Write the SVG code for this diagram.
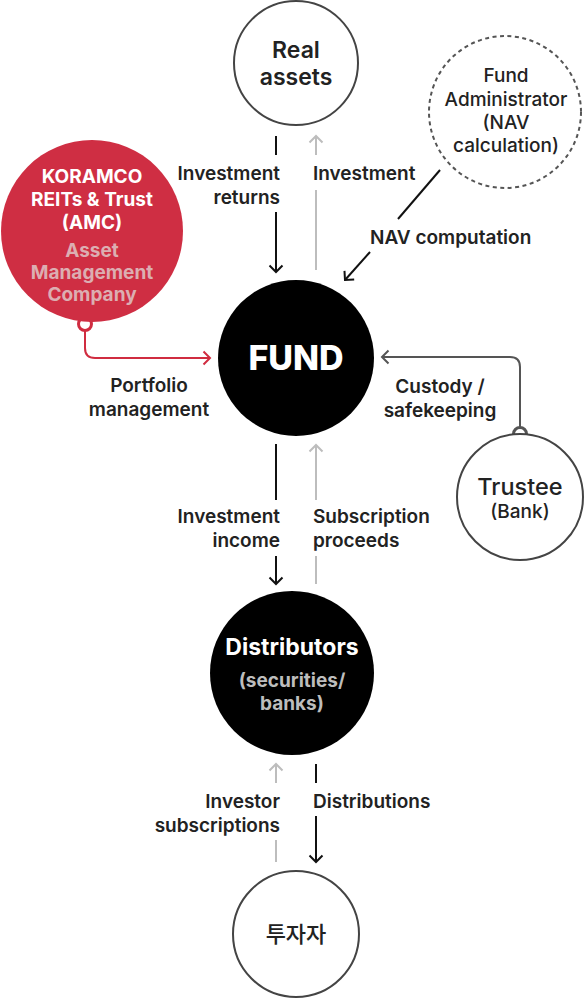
<svg xmlns="http://www.w3.org/2000/svg" width="584" height="998" viewBox="0 0 584 998">
<defs>
<style>
text{font-family:Inter,"Noto Sans","Noto Sans CJK KR",sans-serif;}
.lbl{font-size:19px;font-weight:600;fill:#222;}
.node-o{fill:#fff;stroke:#444;stroke-width:2;}
.blk{stroke:#111;stroke-width:2;fill:none;}
.gry{stroke:#bdbdbd;stroke-width:2;fill:none;}
.red{stroke:#d02c40;stroke-width:2;fill:none;}
.dk{stroke:#555;stroke-width:2;fill:none;}
</style>
<marker id="aB" viewBox="-8 -8 16 16" markerWidth="16" markerHeight="16" markerUnits="userSpaceOnUse" refX="0" refY="0" orient="auto"><path d="M-6.5,-6.5 L0,0 L-6.5,6.5" fill="none" stroke="#111" stroke-width="2"/></marker>
<marker id="aG" viewBox="-8 -8 16 16" markerWidth="16" markerHeight="16" markerUnits="userSpaceOnUse" refX="0" refY="0" orient="auto"><path d="M-6.5,-6.5 L0,0 L-6.5,6.5" fill="none" stroke="#bdbdbd" stroke-width="2"/></marker>
<marker id="aR" viewBox="-8 -8 16 16" markerWidth="16" markerHeight="16" markerUnits="userSpaceOnUse" refX="0" refY="0" orient="auto"><path d="M-6.5,-6.5 L0,0 L-6.5,6.5" fill="none" stroke="#d02c40" stroke-width="2"/></marker>
<marker id="aD" viewBox="-8 -8 16 16" markerWidth="16" markerHeight="16" markerUnits="userSpaceOnUse" refX="0" refY="0" orient="auto"><path d="M-6.5,-6.5 L0,0 L-6.5,6.5" fill="none" stroke="#555" stroke-width="2"/></marker>
</defs>
<rect width="584" height="998" fill="#fff"/>

<g id="connectors">
  <line class="blk" x1="276" y1="136" x2="276" y2="155"/>
  <line class="blk" x1="276" y1="212" x2="276" y2="272" marker-end="url(#aB)"/>
  <line class="gry" x1="316" y1="155" x2="316" y2="136" marker-end="url(#aG)"/>
  <line class="gry" x1="316" y1="270" x2="316" y2="190"/>
  <line class="blk" x1="440" y1="170" x2="398" y2="219"/>
  <line class="blk" x1="370" y1="252" x2="345" y2="280" marker-end="url(#aB)"/>
  <path class="red" d="M85,324 V348 Q85,358 95,358 H210" marker-end="url(#aR)"/>
  <circle cx="85" cy="324" r="6.5" fill="#fff" stroke="#d02c40" stroke-width="3"/>
  <path class="dk" d="M520,434 V367 Q520,357 510,357 H382" marker-end="url(#aD)"/>
  <circle cx="520" cy="434" r="6.5" fill="#fff" stroke="#555" stroke-width="3"/>
  <line class="blk" x1="276" y1="444" x2="276" y2="500"/>
  <line class="blk" x1="276" y1="556" x2="276" y2="584" marker-end="url(#aB)"/>
  <line class="gry" x1="316" y1="500" x2="316" y2="445" marker-end="url(#aG)"/>
  <line class="gry" x1="316" y1="584" x2="316" y2="556"/>
  <line class="gry" x1="276" y1="783" x2="276" y2="764" marker-end="url(#aG)"/>
  <line class="gry" x1="276" y1="862" x2="276" y2="840"/>
  <line class="blk" x1="316" y1="764" x2="316" y2="783"/>
  <line class="blk" x1="316" y1="816" x2="316" y2="862" marker-end="url(#aB)"/>

  <text class="lbl" text-anchor="end" x="280" y="180">Investment</text>
  <text class="lbl" text-anchor="end" x="280" y="204">returns</text>
  <text class="lbl" x="313" y="180">Investment</text>
  <text class="lbl" x="370" y="244">NAV computation</text>
  <text class="lbl" text-anchor="middle" x="149" y="392">Portfolio</text>
  <text class="lbl" text-anchor="middle" x="149" y="416">management</text>
  <text class="lbl" text-anchor="middle" x="440" y="393">Custody /</text>
  <text class="lbl" text-anchor="middle" x="440" y="417">safekeeping</text>
  <text class="lbl" text-anchor="end" x="280" y="523">Investment</text>
  <text class="lbl" text-anchor="end" x="280" y="547">income</text>
  <text class="lbl" x="313" y="523">Subscription</text>
  <text class="lbl" x="313" y="547">proceeds</text>
  <text class="lbl" text-anchor="end" x="280" y="808">Investor</text>
  <text class="lbl" text-anchor="end" x="280" y="832">subscriptions</text>
  <text class="lbl" x="313" y="808">Distributions</text>
</g>

<g id="real-assets">
  <circle class="node-o" cx="296" cy="63" r="62"/>
  <text x="296" y="58" text-anchor="middle" font-size="23" font-weight="600" fill="#222">Real</text>
  <text x="296" y="85" text-anchor="middle" font-size="23" font-weight="600" fill="#222">assets</text>
</g>

<g id="fund-administrator">
  <circle cx="505" cy="112" r="76" fill="#fff" stroke="#555" stroke-width="2" stroke-dasharray="4 3.5"/>
  <g font-size="19" font-weight="500" fill="#222" text-anchor="middle">
    <text x="506" y="82">Fund</text>
    <text x="506" y="106">Administrator</text>
    <text x="506" y="129">(NAV</text>
    <text x="506" y="152">calculation)</text>
  </g>
</g>

<g id="amc">
  <circle cx="92" cy="231" r="91" fill="#cf2e43"/>
  <g font-size="19" font-weight="700" text-anchor="middle">
    <text x="92" y="183" fill="#fff">KORAMCO</text>
    <text x="92" y="206" fill="#fff">REITs &amp; Trust</text>
    <text x="92" y="229" fill="#fff">(AMC)</text>
    <text x="92" y="257" fill="#dcaeb2">Asset</text>
    <text x="92" y="279" fill="#dcaeb2">Management</text>
    <text x="92" y="301" fill="#dcaeb2">Company</text>
  </g>
</g>

<g id="fund">
  <circle cx="296" cy="358" r="78" fill="#000"/>
  <text x="296" y="370" text-anchor="middle" font-size="34" font-weight="800" fill="#fff">FUND</text>
</g>

<g id="trustee">
  <circle class="node-o" cx="520" cy="497" r="63"/>
  <text x="520" y="495" text-anchor="middle" font-size="23.5" font-weight="500" fill="#222">Trustee</text>
  <text x="520" y="518" text-anchor="middle" font-size="19" font-weight="500" fill="#222">(Bank)</text>
</g>

<g id="distributors">
  <circle cx="292" cy="673" r="82" fill="#000"/>
  <text x="292" y="655" text-anchor="middle" font-size="23" font-weight="700" fill="#fff">Distributors</text>
  <text x="292" y="687" text-anchor="middle" font-size="19" font-weight="700" fill="#bdbdbd">(securities/</text>
  <text x="292" y="710" text-anchor="middle" font-size="19" font-weight="700" fill="#bdbdbd">banks)</text>
</g>

<g id="investors">
  <circle class="node-o" cx="296" cy="934" r="63"/>
  <text x="296" y="942" text-anchor="middle" font-size="22" font-weight="500" fill="#222" font-family="Inter,'Noto Sans CJK KR',sans-serif">투자자</text>
</g>
</svg>
